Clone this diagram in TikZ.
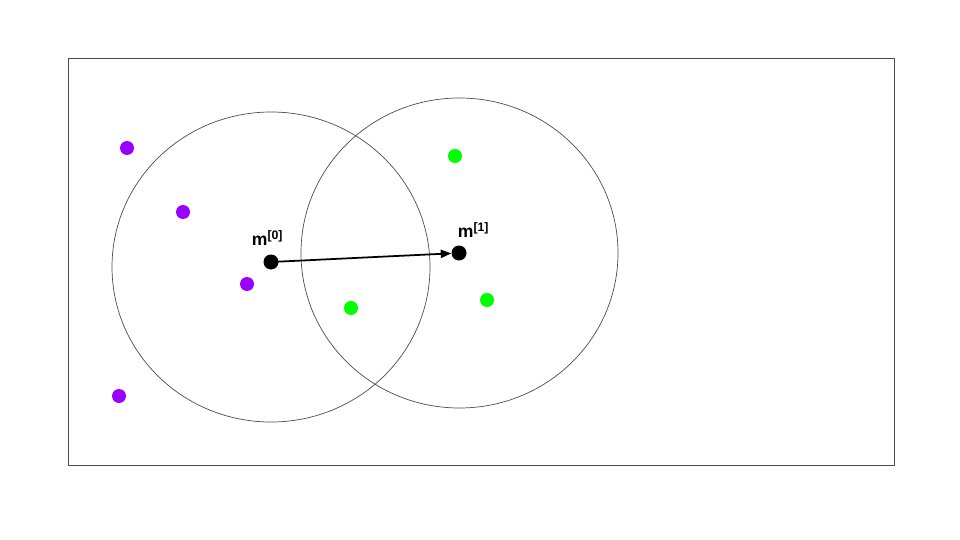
\documentclass[tikz,border=0pt]{standalone}
\usepackage{fontspec}
\setmainfont{Liberation Sans}
\usetikzlibrary{arrows.meta}
\definecolor{pur}{HTML}{9900FF}
\definecolor{grn}{HTML}{00FF00}
\begin{document}
\begin{tikzpicture}[x=0.03cm,y=-0.03cm,
  dot/.style={circle,inner sep=0pt,minimum size=14*0.03cm},
  pdot/.style={dot,fill=pur},
  gdot/.style={dot,fill=grn},
  mdot/.style={dot,fill=black,minimum size=15*0.03cm},
  lab/.style={font=\bfseries\fontsize{15}{17}\selectfont,inner sep=0pt},
  sup/.style={},
  ring/.style={draw=black!70,line width=0.6pt}]
\useasboundingbox (0,0) rectangle (960,540);
\draw[draw=black!70,line width=0.6pt] (68,58) rectangle (894,465);
\draw[ring] (271,267) ellipse [x radius=159*0.03cm,y radius=155*0.03cm];
\draw[ring] (459.5,253) ellipse [x radius=158.5*0.03cm,y radius=155*0.03cm];
\node[pdot] (p1) at (127,148) {};
\node[pdot] (p2) at (183,212) {};
\node[pdot] (p3) at (247,284) {};
\node[pdot] (p4) at (119,396) {};
\node[gdot] (g1) at (455,156) {};
\node[gdot] (g2) at (351,308) {};
\node[gdot] (g3) at (487,300) {};
\node[mdot] (m0) at (271,262) {};
\node[mdot] (m1) at (459,253) {};
\node[lab] (l0) at (267.5,238) {m\textsuperscript{[0]}};
\node[lab] (l1) at (473.5,230) {m\textsuperscript{[1]}};
\draw[line width=1.5pt,-{Triangle[length=9pt,width=7pt]}] (m0.center) -- (m1);
\end{tikzpicture}
\end{document}
